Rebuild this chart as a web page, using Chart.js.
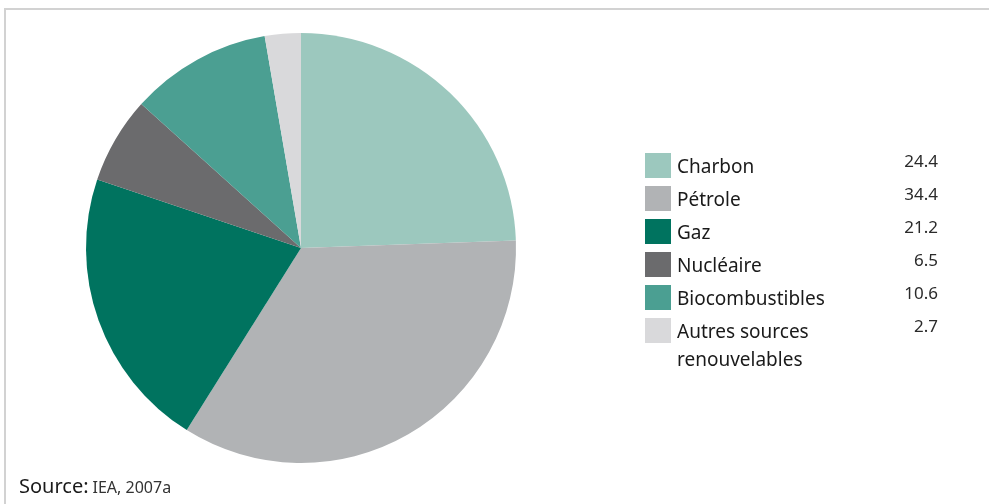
<!DOCTYPE html>
<html>
<head>
<meta charset="utf-8">
<script src="https://cdn.jsdelivr.net/npm/chart.js@4/dist/chart.umd.min.js"></script>
<style>
  html, body { margin: 0; padding: 0; background: #fff; }
  #wrap { position: relative; width: 989px; height: 504px; overflow: hidden; }
  #frame { position: absolute; left: 4px; top: 8px; width: 1000px; height: 520px;
           border-left: 2px solid #d2d2d2; border-top: 2px solid #d2d2d2; }
  canvas { position: absolute; left: 0; top: 0; }
</style>
</head>
<body>
<div id="wrap">
  <div id="frame"></div>
  <canvas id="myChart" width="989" height="504"></canvas>
</div>
<script>
// energy mix shares (%)
var labels = ["Charbon", "Pétrole", "Gaz", "Nucléaire", "Biocombustibles", "Autres sources renouvelables"];
var legendLines = [["Charbon"], ["Pétrole"], ["Gaz"], ["Nucléaire"], ["Biocombustibles"], ["Autres sources", "renouvelables"]];
var values = [24.4, 34.4, 21.2, 6.5, 10.6, 2.7];
var valueLabels = ["24.4", "34.4", "21.2", "6.5", "10.6", "2.7"];
var colors = ["#9cc8be", "#b1b3b5", "#00735f", "#6b6b6d", "#4b9f92", "#d9d9db"];

var FONT = '"Noto Sans", sans-serif';

// draws legend at the right and the source note
var sideLegend = {
    id: "sideLegend",
    afterDraw: function(chart) {
        var c = chart.ctx;
        var x0 = 645, y0 = 153, step = 33;
        c.save();
        c.textBaseline = "middle";
        for (var i = 0; i < labels.length; i++) {
            var y = y0 + i * step;
            c.fillStyle = chart.data.datasets[0].backgroundColor[i];
            c.fillRect(x0, y, 26, 25);
            c.fillStyle = "#1a1a1a";
            c.font = "19px " + FONT;
            c.textAlign = "left";
            for (var j = 0; j < legendLines[i].length; j++) {
                c.fillText(legendLines[i][j], 677, y + 15 + j * 28);
            }
            c.textAlign = "right";
            c.fillStyle = "#2a2a2a";
            c.font = "17px " + FONT;
            c.fillText(valueLabels[i], 938, y + 9);
        }
        c.textAlign = "left";
        c.fillStyle = "#1a1a1a";
        c.font = "20px " + FONT;
        c.fillText("Source:", 19, 487);
        var w = c.measureText("Source:").width;
        c.fillStyle = "#333";
        c.font = "16px " + FONT;
        c.fillText("IEA, 2007a", 19 + w + 4, 488);
        c.restore();
    }
};

var ctx = document.getElementById('myChart').getContext('2d');
var chart = new Chart(ctx, {
    type: 'pie',
    data: {
        labels: labels,
        datasets: [{
            data: values,
            backgroundColor: colors,
            borderWidth: 0
        }]
    },
    options: {
        responsive: false,
        animation: false,
        layout: { padding: { left: 86, right: 473, top: 33, bottom: 41 } },
        plugins: {
            legend: { display: false },
            tooltip: { enabled: false }
        }
    },
    plugins: [sideLegend]
});
</script>
</body>
</html>
